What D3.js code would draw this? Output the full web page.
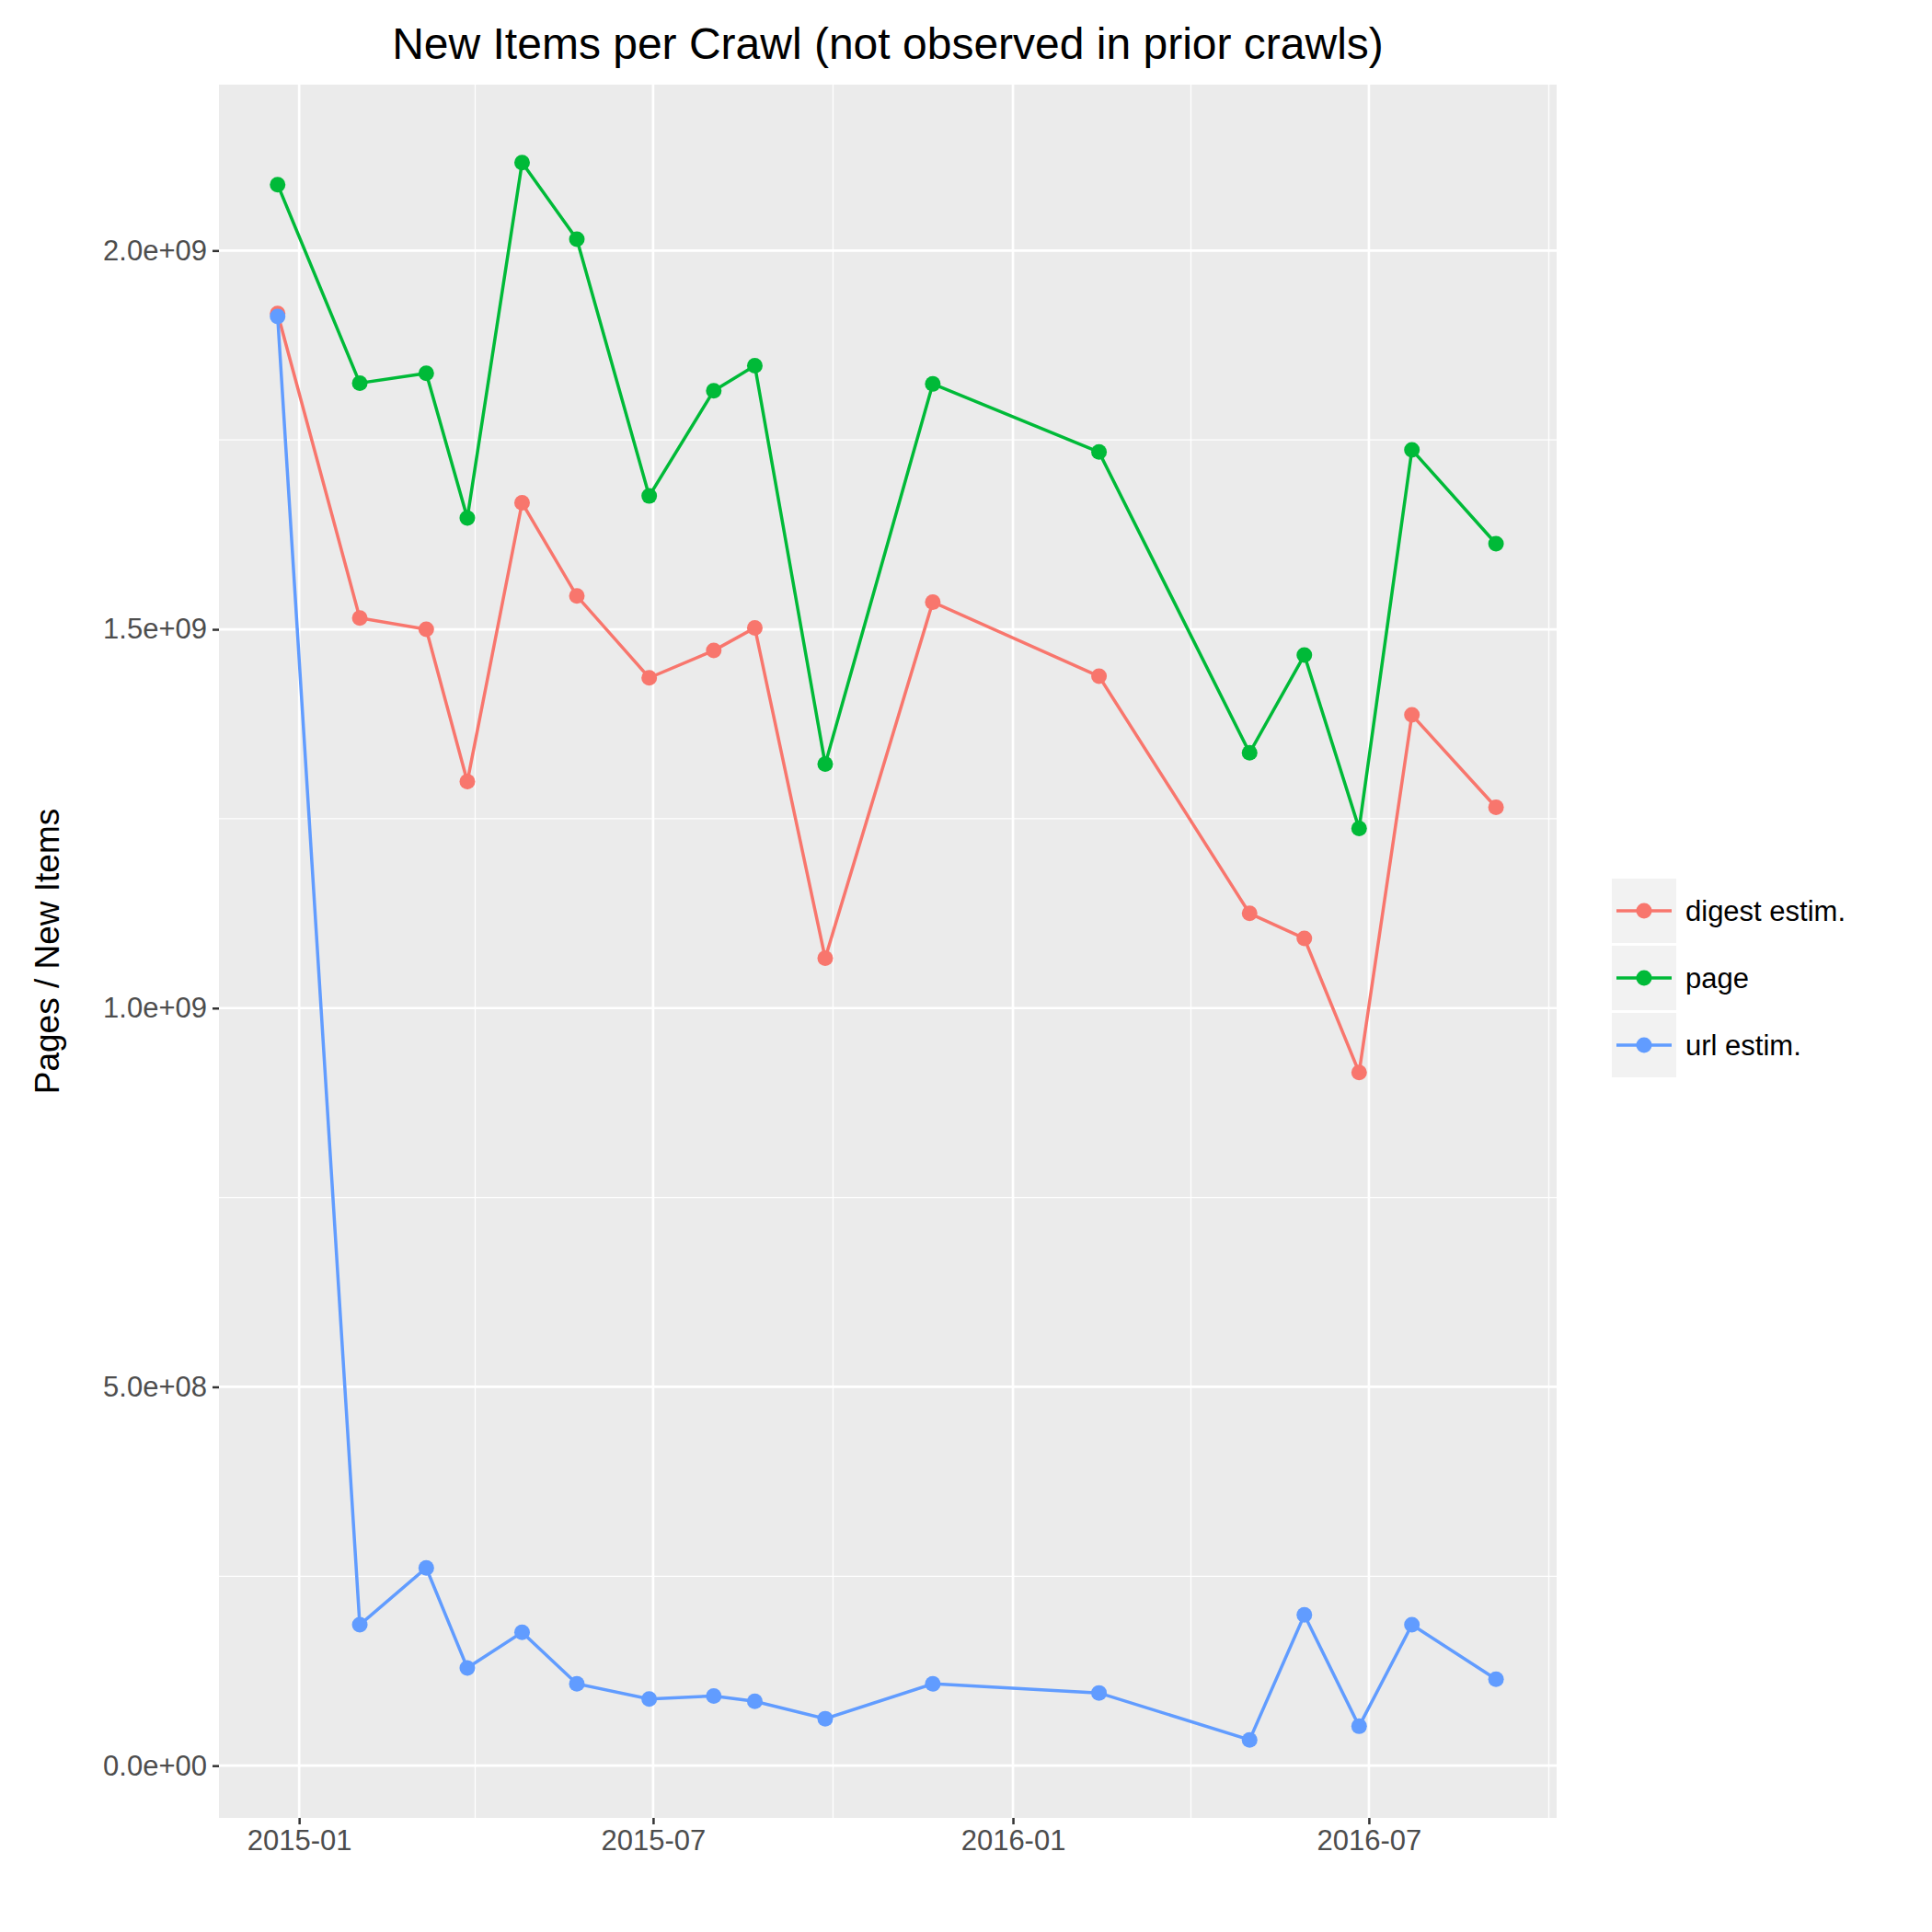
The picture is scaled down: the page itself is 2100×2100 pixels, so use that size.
<!DOCTYPE html>
<html><head><meta charset="utf-8">
<script src="https://cdn.jsdelivr.net/npm/d3@7"></script>
<style>body{margin:0;background:#fff}text{font-family:"Liberation Sans",Arial,sans-serif}</style>
</head><body>
<script>
const dates = ["2014-12-21","2015-02-01","2015-03-07","2015-03-28","2015-04-25","2015-05-23","2015-06-29","2015-08-01","2015-08-22","2015-09-27","2015-11-21","2016-02-14","2016-05-01","2016-05-29","2016-06-26","2016-07-23","2016-09-04"];
const digest = [1.917,1.515,1.500,1.299,1.667,1.544,1.436,1.472,1.502,1.066,1.536,1.438,1.125,1.092,0.915,1.387,1.265];
const page   = [2.087,1.825,1.838,1.647,2.116,2.015,1.676,1.815,1.848,1.322,1.824,1.734,1.337,1.466,1.237,1.737,1.613];
const url    = [1.913,0.186,0.261,0.129,0.176,0.108,0.088,0.092,0.085,0.062,0.108,0.096,0.034,0.199,0.052,0.186,0.114];
const seriesNames = ["digest estim.","page","url estim."];
const colors = ["#F8766D","#00BA38","#619CFF"];
const yTicks = [0,5e8,1e9,1.5e9,2e9];
const yTickLabels = ["0.0e+00","5.0e+08","1.0e+09","1.5e+09","2.0e+09"];
const xTicks = ["2015-01-01","2015-07-01","2016-01-01","2016-07-01"];
const xTickLabels = ["2015-01","2015-07","2016-01","2016-07"];

const W=2100,H=2100, L=238,R=1692,T=92,B=1976;
const parse=d3.utcParse("%Y-%m-%d");
const svg=d3.select("body").append("svg").attr("width",W).attr("height",H);
const x=d3.scaleUtc().domain([parse("2014-11-21"),parse("2016-10-05")]).range([L,R]);
const y=d3.scaleLinear().domain([-0.069e9,2.219e9]).range([B,T]);
svg.append("rect").attr("x",L).attr("y",T).attr("width",R-L).attr("height",B-T).attr("fill","#EBEBEB");
const g=svg.append("g");
const minorX=["2014-10-01","2015-04-01","2015-10-01","2016-04-01","2016-10-01"].map(parse).filter(d=>x(d)>=L&&x(d)<=R);
g.selectAll(".mx").data(minorX).enter().append("line").attr("x1",d=>x(d)).attr("x2",d=>x(d)).attr("y1",T).attr("y2",B).attr("stroke","#fff").attr("stroke-width",1.3);
g.selectAll(".my").data([2.5e8,7.5e8,1.25e9,1.75e9]).enter().append("line").attr("y1",d=>y(d)).attr("y2",d=>y(d)).attr("x1",L).attr("x2",R).attr("stroke","#fff").attr("stroke-width",1.3);
g.selectAll(".Mx").data(xTicks.map(parse)).enter().append("line").attr("x1",d=>x(d)).attr("x2",d=>x(d)).attr("y1",T).attr("y2",B).attr("stroke","#fff").attr("stroke-width",2.7);
g.selectAll(".My").data(yTicks).enter().append("line").attr("y1",d=>y(d)).attr("y2",d=>y(d)).attr("x1",L).attr("x2",R).attr("stroke","#fff").attr("stroke-width",2.7);
const ya=svg.append("g").attr("transform",`translate(${L},0)`).call(d3.axisLeft(y).tickValues(yTicks).tickFormat((d,i)=>yTickLabels[i]).tickSize(7).tickPadding(6));
const xa=svg.append("g").attr("transform",`translate(0,${B})`).call(d3.axisBottom(x).tickValues(xTicks.map(parse)).tickFormat((d,i)=>xTickLabels[i]).tickSize(7).tickPadding(6));
[ya,xa].forEach(a=>{a.attr("font-size",31).select(".domain").remove();a.selectAll("line").attr("stroke","#333").attr("stroke-width",2.5);a.selectAll("text").attr("fill","#4D4D4D").attr("font-size",31).style("font-size","31px");});
const data=[digest,page,url];
const line=d3.line().x((d,i)=>x(parse(dates[i]))).y(d=>y(d*1e9));
data.forEach((s,k)=>{
  svg.append("path").datum(s).attr("d",line).attr("fill","none").attr("stroke",colors[k]).attr("stroke-width",3.5);
  svg.selectAll(".p"+k).data(s).enter().append("circle").attr("cx",(d,i)=>x(parse(dates[i]))).attr("cy",d=>y(d*1e9)).attr("r",8.5).attr("fill",colors[k]);
});
svg.append("text").attr("x",(L+R)/2).attr("y",64).attr("text-anchor","middle").style("font-size","48px").text("New Items per Crawl (not observed in prior crawls)");
svg.append("text").attr("transform",`translate(64,${(T+B)/2}) rotate(-90)`).attr("text-anchor","middle").style("font-size","37px").text("Pages / New Items");
const lx=1752, ly=955, ks=70;
seriesNames.forEach((n,k)=>{
  const yy=ly+k*(ks+3);
  svg.append("rect").attr("x",lx).attr("y",yy).attr("width",ks).attr("height",ks).attr("fill","#F2F2F2");
  svg.append("line").attr("x1",lx+5).attr("x2",lx+ks-5).attr("y1",yy+ks/2).attr("y2",yy+ks/2).attr("stroke",colors[k]).attr("stroke-width",3.5);
  svg.append("circle").attr("cx",lx+ks/2).attr("cy",yy+ks/2).attr("r",8.5).attr("fill",colors[k]);
  svg.append("text").attr("x",lx+ks+10).attr("y",yy+ks/2+11).style("font-size","31px").text(n);
});
</script>
</body></html>
